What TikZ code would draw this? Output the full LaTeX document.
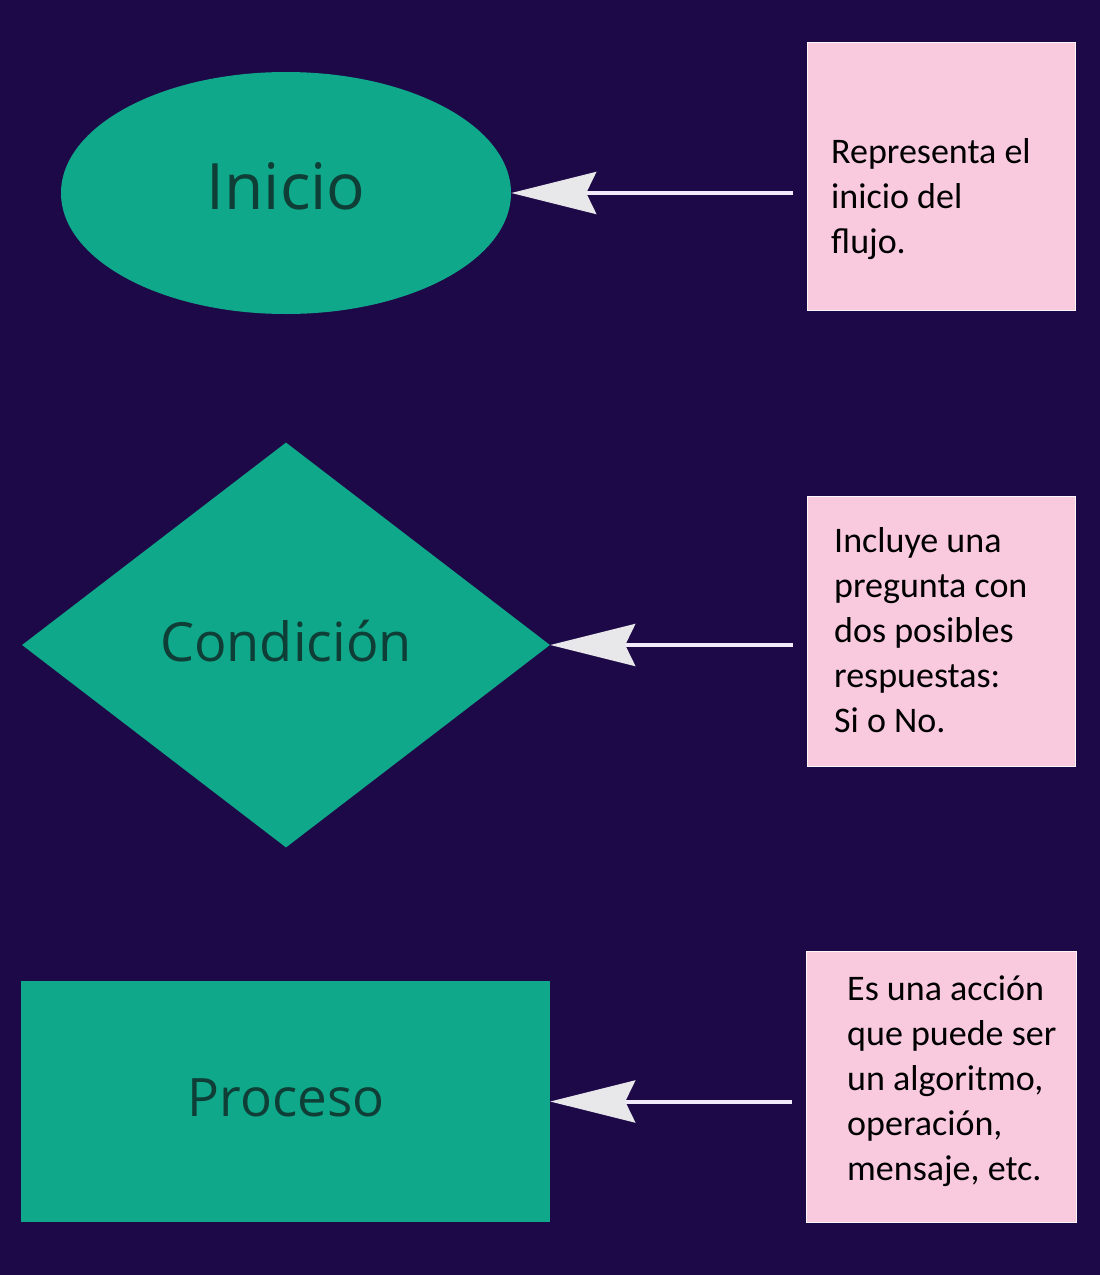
\documentclass[tikz,border=0pt]{standalone}
\usepackage{fontspec}
\setmainfont{Carlito}
\newfontfamily\shapefont{Open Sans}
\usetikzlibrary{shapes.geometric,arrows.meta}
\definecolor{bgc}{RGB}{30,9,72}
\definecolor{tealc}{RGB}{16,168,138}
\definecolor{tealtext}{RGB}{14,62,54}
\definecolor{pinkc}{RGB}{249,201,222}
\definecolor{arrowline}{RGB}{240,234,250}
\definecolor{arrowhead}{RGB}{232,232,234}
\tikzset{
  shapebox/.style={fill=tealc, draw=none, inner sep=0pt},
  shapelabel/.style={inner sep=0pt, text=tealtext, font=\shapefont},
  notebox/.style={fill=pinkc, draw=white!85!pinkc, line width=1pt, minimum width=268pt, minimum height=268pt, inner sep=0pt},
  notetext/.style={anchor=base west, inner sep=0pt, text=black, font=\fontsize{36}{45}\selectfont},
  conn/.style={draw=arrowline, line width=4pt, shorten <=14pt,
    -{Stealth[length=85pt, width=42pt, inset=10pt, fill=arrowhead, color=arrowhead]}},
}
\begin{document}
\begin{tikzpicture}[x=1pt, y=-1pt]
\fill[bgc] (0,0) rectangle (1100,1275);
\useasboundingbox (0,0) rectangle (1100,1275);

% shapes
\node[shapebox, ellipse, minimum width=450pt, minimum height=242pt] (inicio) at (286,193) {};
\node[shapebox, diamond, minimum width=528pt, minimum height=405pt] (cond) at (286,645) {};
\node[shapebox, rectangle, minimum width=529pt, minimum height=241pt] (proc) at (285.5,1101.5) {};

\node[shapelabel, font=\shapefont\fontsize{64}{70}\selectfont] (linicio) at (286,186) {Inicio};
\node[shapelabel, font=\shapefont\fontsize{54}{60}\selectfont] (lcond) at (286,641) {Condición};
\node[shapelabel, font=\shapefont\fontsize{53}{60}\selectfont] (lproc) at (286,1098) {Proceso};

% notes
\node[notebox] (n1) at (941,176) {};
\node[notebox, minimum height=270pt] (n2) at (941,631) {};
\node[notebox, minimum width=270pt, minimum height=271pt] (n3) at (941,1086.5) {};

\node[notetext] (t1) at (831,163) {\begin{tabular}[t]{@{}l@{}}Representa el\\inicio del\\flujo.\end{tabular}};
\node[notetext] (t2) at (834,552) {\begin{tabular}[t]{@{}l@{}}Incluye una\\pregunta con\\dos posibles\\respuestas:\\Si o No.\end{tabular}};
\node[notetext] (t3) at (847,1000) {\begin{tabular}[t]{@{}l@{}}Es una acción\\que puede ser\\un algoritmo,\\operación,\\mensaje, etc.\end{tabular}};

% connectors
\draw[conn] (n1.west |- inicio.east) -- (inicio.east);
\draw[conn] (n2.west |- cond.east) -- (cond.east);
\draw[conn] (n3.west |- proc.east) -- (proc.east);
\end{tikzpicture}
\end{document}
